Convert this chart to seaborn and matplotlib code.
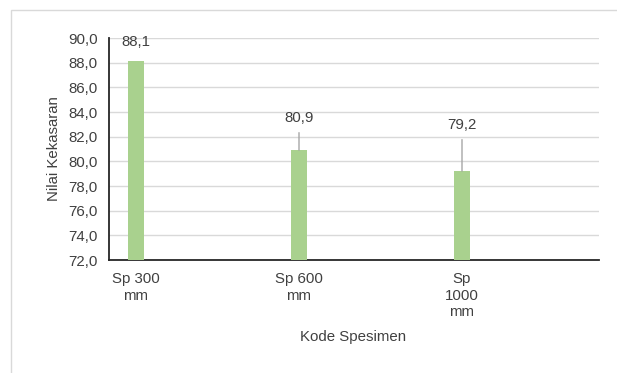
import matplotlib
matplotlib.use("Agg")
import matplotlib.pyplot as plt
import seaborn as sns
import pandas as pd
from matplotlib.patches import Rectangle

categories = ["Sp 300\nmm", "Sp 600\nmm", "Sp\n1000\nmm"]
values = [88.1, 80.9, 79.2]
value_labels = ["88,1", "80,9", "79,2"]
y_ticks = [72, 74, 76, 78, 80, 82, 84, 86, 88, 90]
y_tick_labels = ["72,0", "74,0", "76,0", "78,0", "80,0", "82,0", "84,0", "86,0", "88,0", "90,0"]

sns.set_theme(style="white")
plt.rcParams["font.family"] = ["Liberation Sans", "DejaVu Sans"]

FS = 10.8
TXT = "#404040"

df = pd.DataFrame({"Kode": categories, "Nilai": values})

fig = plt.figure(figsize=(6.17, 3.73), dpi=100)
ax = fig.add_axes([109 / 617, 1 - 260 / 373, 490 / 617, 222 / 373])

# outer chart frame
fig.patches.append(Rectangle((11 / 617, -0.1), 1.5, 1 - 10 / 373 + 0.1,
                             transform=fig.transFigure, fill=False,
                             edgecolor="#d9d9d9", linewidth=1.0))

sns.barplot(data=df, x="Kode", y="Nilai", color="#a9d18e", width=0.1,
            saturation=1, linewidth=0, ax=ax, zorder=3)

ax.set_ylim(72, 90)
ax.set_xlim(-27 / 163, 463 / 163)
ax.set_yticks(y_ticks)
ax.set_yticklabels(y_tick_labels)
ax.yaxis.grid(True, color="#d9d9d9", linewidth=1.0, zorder=0)
ax.set_axisbelow(True)

for side in ("top", "right"):
    ax.spines[side].set_visible(False)
for side in ("left", "bottom"):
    ax.spines[side].set_color("#262626")
    ax.spines[side].set_linewidth(1.3)

ax.tick_params(axis="both", length=0, labelsize=FS, colors=TXT)
ax.tick_params(axis="y", pad=8)
ax.tick_params(axis="x", pad=9)
for lbl in ax.get_xticklabels():
    lbl.set_linespacing(1.2)

ax.set_xlabel("Kode Spesimen", fontsize=FS, color=TXT)
ax.set_ylabel("Nilai Kekasaran", fontsize=FS, color=TXT)
ax.xaxis.set_label_coords((353 - 109) / 490, -(330 - 260) / 222)
ax.yaxis.set_label_coords(-(109 - 61) / 490, 0.5)

# value labels, with leader lines where the label sits away from the bar
offsets = [19, 32, 46]
for i, (v, txt, off) in enumerate(zip(values, value_labels, offsets)):
    if off > 25:
        ax.annotate(txt, xy=(i, v), xytext=(0, off), textcoords="offset pixels",
                    ha="center", va="center", fontsize=FS, color=TXT,
                    arrowprops=dict(arrowstyle="-", color="#a6a6a6", lw=1.0,
                                    shrinkA=3, shrinkB=0))
    else:
        ax.annotate(txt, xy=(i, v), xytext=(0, off), textcoords="offset pixels",
                    ha="center", va="center", fontsize=FS, color=TXT)

fig.savefig("out.png", dpi=100)
